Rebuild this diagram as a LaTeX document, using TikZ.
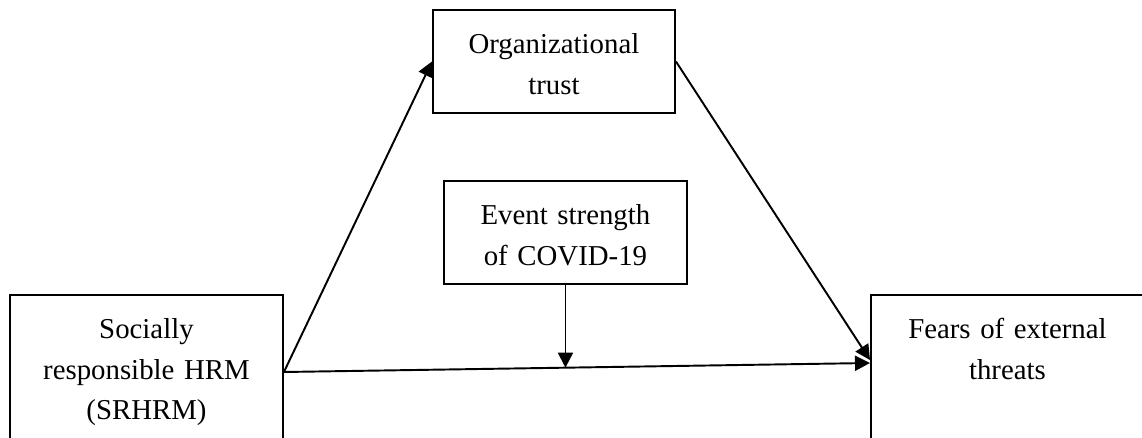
\documentclass[tikz,border=0pt]{standalone}
\usepackage{fontspec}
\setmainfont{Liberation Serif}
\usetikzlibrary{arrows.meta,calc}

\tikzset{
  box/.style={draw, line width=1.1pt, align=center, inner xsep=0pt, inner ysep=0.3cm,
    text height=0.58cm, text depth=0.88cm, anchor=north west,
    font=\fontsize{16.4}{22.8}\selectfont},
  arr/.style={line width=1.1pt, -{Triangle[length=0.3cm,width=0.3cm]}}
}

\begin{document}
\begin{tikzpicture}
\path[use as bounding box, clip] (0,0) rectangle (22.84,8.74);

\node[box, text width=5.46cm, text depth=1.94cm] (srhrm) at (0.18,2.86) {Socially\\responsible HRM\\(SRHRM)};
\node[box, text width=5.46cm, text depth=1.94cm] (fears) at (17.4,2.86) {Fears of external\\threats};
\node[box, text width=4.84cm] (trust) at (8.64,8.56) {Organizational\\trust};
\node[box, text width=4.86cm] (event) at (8.86,5.14) {Event strength\\of COVID-19};

\coordinate (out) at ([yshift=-1.56cm]srhrm.north east);
\coordinate (in) at ([yshift=-1.38cm]fears.north west);
\coordinate (tip) at ([yshift=-1.32cm]fears.north west);
\coordinate (hit) at ($(out)!(event.south)!(in)$);

\draw[arr] (out) -- (trust.west);
\draw[arr] (trust.east) -- (tip);
\draw[arr] (out) -- (in);
\draw[arr] (event.south) -- (event.south |- hit);
\end{tikzpicture}
\end{document}
